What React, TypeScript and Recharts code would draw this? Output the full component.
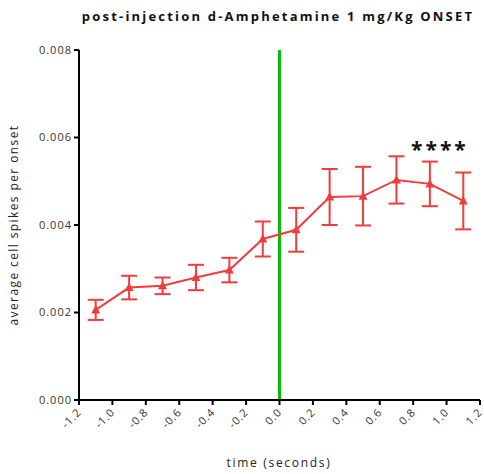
import React from 'react';
import { LineChart, Line, XAxis, YAxis, ErrorBar, ReferenceLine, ReferenceDot } from 'recharts';

const times = [-1.1, -0.9, -0.7, -0.5, -0.3, -0.1, 0.1, 0.3, 0.5, 0.7, 0.9, 1.1];
const means = [0.00206, 0.00257, 0.00261, 0.0028, 0.00297, 0.00368, 0.00389, 0.00464, 0.00466, 0.00503, 0.00494, 0.00455];
const sems = [0.00023, 0.00027, 0.00019, 0.00029, 0.00028, 0.0004, 0.0005, 0.00064, 0.00067, 0.00054, 0.00051, 0.00065];
const xTicks = [-1.2, -1.0, -0.8, -0.6, -0.4, -0.2, 0.0, 0.2, 0.4, 0.6, 0.8, 1.0, 1.2];
const yTicks = [0, 0.002, 0.004, 0.006, 0.008];
const title = 'post-injection d-Amphetamine 1 mg/Kg ONSET';
const xLabel = 'time (seconds)';
const yLabel = 'average cell spikes per onset';
const sigMark = '****';
const sigX = 0.96;
const sigY = 0.00572;

const data = times.map((t, i) => ({ t, v: means[i], err: sems[i] }));

const RED = '#f23c3c';
const FONT = '"Open Sans", Lato, sans-serif';

const Triangle = (props: any) => {
  const { cx, cy } = props;
  if (cx == null || cy == null) return null;
  return <polygon points={`${cx},${cy - 5} ${cx - 4.5},${cy + 3.5} ${cx + 4.5},${cy + 3.5}`} fill={RED} />;
};

const XTick = (props: any) => {
  const { x, y, payload } = props;
  return (
    <text
      x={0}
      y={0}
      transform={`translate(${x + 3},${y + 6}) rotate(-45)`}
      textAnchor="end"
      fontSize={11}
      fill="#333"
      fontFamily={FONT}
      letterSpacing={0.8}
    >
      {Number(payload.value).toFixed(1)}
    </text>
  );
};

const YLabel = () => (
  <text
    x={0}
    y={0}
    transform="translate(18,225) rotate(-90)"
    textAnchor="middle"
    fontSize={12}
    fill="#222"
    fontFamily={FONT}
    letterSpacing={1.4}
  >
    {yLabel}
  </text>
);

const XLabel = () => (
  <text x={279} y={467} textAnchor="middle" fontSize={12} fill="#222" fontFamily={FONT} letterSpacing={1.7}>
    {xLabel}
  </text>
);

export default function App() {
  return (
    <div style={{ position: 'absolute', left: 0, top: 0, width: 484, height: 474, background: '#fff' }}>
      <div
        style={{
          position: 'absolute',
          left: 0,
          top: 7,
          width: 484,
          paddingLeft: 72,
          boxSizing: 'border-box',
          textAlign: 'center',
          fontFamily: FONT,
          fontWeight: 700,
          fontSize: 13,
          letterSpacing: 2.2,
          color: '#111',
          whiteSpace: 'nowrap',
        }}
      >
        {title}
      </div>
      <LineChart width={484} height={474} data={data} margin={{ top: 50, right: 4, bottom: 0, left: 0 }}>
        <XAxis
          dataKey="t"
          type="number"
          domain={[-1.2, 1.2]}
          ticks={xTicks}
          height={74}
          stroke="#000"
          strokeWidth={2}
          tickSize={5}
          tick={<XTick />}
          label={<XLabel />}
          interval={0}
          allowDataOverflow
        />
        <YAxis
          type="number"
          domain={[0, 0.008]}
          ticks={yTicks}
          width={79}
          stroke="#000"
          strokeWidth={2}
          tickSize={5}
          tick={{ fontSize: 11, fill: '#333', fontFamily: FONT, letterSpacing: 1 }}
          tickFormatter={(v: number) => v.toFixed(3)}
          label={<YLabel />}
          interval={0}
        />
        <ReferenceLine x={0} stroke="#00c000" strokeWidth={3} />
        <Line
          dataKey="v"
          stroke={RED}
          strokeWidth={2}
          dot={<Triangle />}
          activeDot={false}
          isAnimationActive={false}
        >
          <ErrorBar dataKey="err" direction="y" width={8} stroke={RED} strokeWidth={2} />
        </Line>
        <ReferenceDot
          x={sigX}
          y={sigY}
          r={0}
          fill="none"
          stroke="none"
          label={{ value: sigMark, position: 'center', fontSize: 21, fontWeight: 700, fill: '#111', letterSpacing: 3, fontFamily: FONT }}
        />
      </LineChart>
    </div>
  );
}
